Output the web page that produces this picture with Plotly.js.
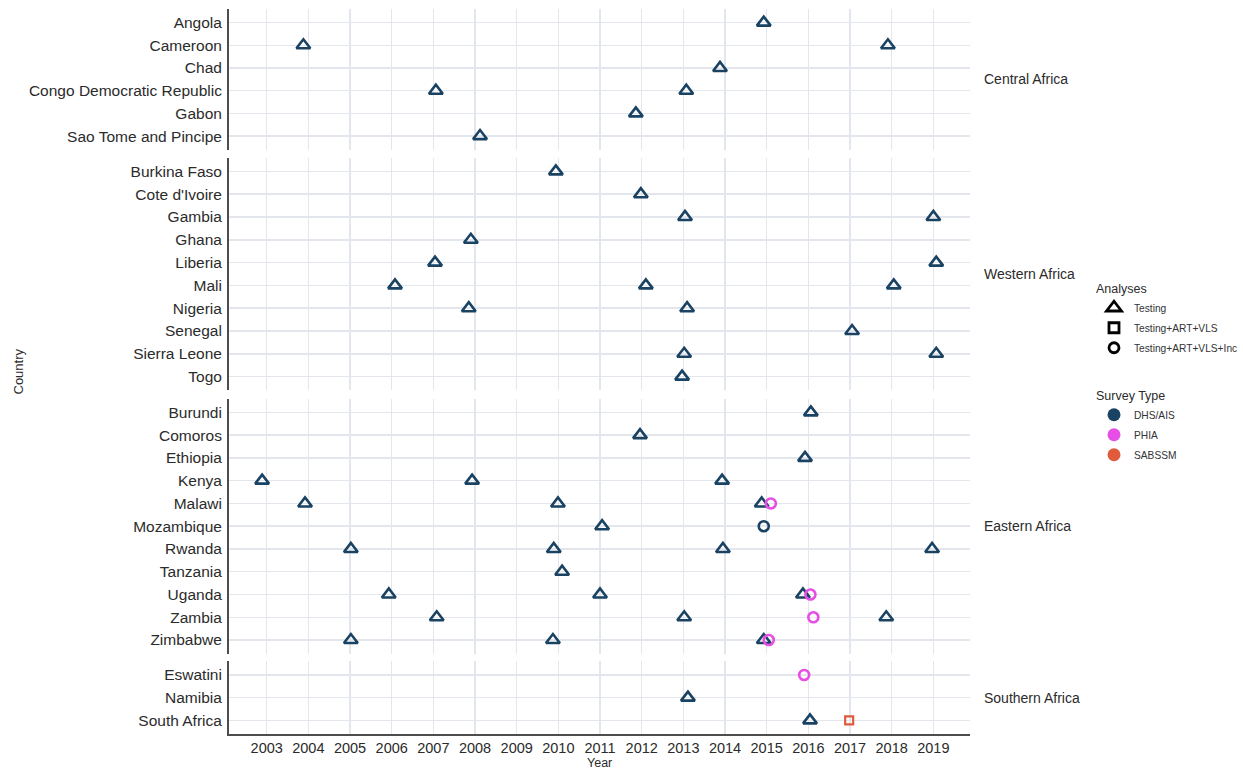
<!DOCTYPE html>
<html>
<head>
<meta charset="utf-8">
<script src="https://cdn.plot.ly/plotly-3.0.1.min.js"></script>
<style>html,body{margin:0;padding:0;background:#fff;}#chart{width:1243px;height:771px;}</style>
</head>
<body>
<div id="chart"></div>
<script>
// ---- categories (top to bottom within each region panel) ----
const regions = ["Central Africa", "Western Africa", "Eastern Africa", "Southern Africa"];
const centralCountries = ["Angola", "Cameroon", "Chad", "Congo Democratic Republic", "Gabon", "Sao Tome and Pincipe"];
const westernCountries = ["Burkina Faso", "Cote d'Ivoire", "Gambia", "Ghana", "Liberia", "Mali", "Nigeria", "Senegal", "Sierra Leone", "Togo"];
const easternCountries = ["Burundi", "Comoros", "Ethiopia", "Kenya", "Malawi", "Mozambique", "Rwanda", "Tanzania", "Uganda", "Zambia", "Zimbabwe"];
const southernCountries = ["Eswatini", "Namibia", "South Africa"];

const analyses = ["Testing", "Testing+ART+VLS", "Testing+ART+VLS+Inc"];
const surveyTypes = ["DHS/AIS", "PHIA", "SABSSM"];
const yearTicks = [2003, 2004, 2005, 2006, 2007, 2008, 2009, 2010, 2011, 2012, 2013, 2014, 2015, 2016, 2017, 2018, 2019];

// ---- survey records (year values) ----
const recCountry = [
  "Angola", "Cameroon", "Cameroon", "Chad", "Congo Democratic Republic", "Congo Democratic Republic", "Gabon", "Sao Tome and Pincipe",
  "Burkina Faso", "Cote d'Ivoire", "Gambia", "Gambia", "Ghana", "Liberia", "Liberia", "Mali", "Mali", "Mali",
  "Nigeria", "Nigeria", "Senegal", "Sierra Leone", "Sierra Leone", "Togo",
  "Burundi", "Comoros", "Ethiopia", "Kenya", "Kenya", "Kenya", "Malawi", "Malawi", "Malawi", "Malawi",
  "Mozambique", "Mozambique", "Rwanda", "Rwanda", "Rwanda", "Rwanda", "Tanzania",
  "Uganda", "Uganda", "Uganda", "Uganda", "Zambia", "Zambia", "Zambia", "Zambia",
  "Zimbabwe", "Zimbabwe", "Zimbabwe", "Zimbabwe",
  "Eswatini", "Namibia", "South Africa", "South Africa"
];
const recYear = [
  2014.93, 2003.88, 2017.91, 2013.88, 2007.06, 2013.07, 2011.86, 2008.12,
  2009.94, 2011.98, 2013.04, 2019.00, 2007.90, 2007.04, 2019.07, 2006.08, 2012.10, 2018.05,
  2007.85, 2013.09, 2017.05, 2013.02, 2019.07, 2012.97,
  2016.06, 2011.96, 2015.92, 2002.89, 2007.93, 2013.93, 2003.92, 2009.99, 2014.88, 2015.10,
  2011.05, 2014.93, 2005.02, 2009.89, 2013.95, 2018.97, 2010.09,
  2005.93, 2011.00, 2015.87, 2016.05, 2007.08, 2013.02, 2017.87, 2016.12,
  2005.02, 2009.87, 2014.93, 2015.05,
  2015.90, 2013.11, 2016.04, 2016.98
];
const recAnalysis = [
  "Testing", "Testing", "Testing", "Testing", "Testing", "Testing", "Testing", "Testing",
  "Testing", "Testing", "Testing", "Testing", "Testing", "Testing", "Testing", "Testing", "Testing", "Testing",
  "Testing", "Testing", "Testing", "Testing", "Testing", "Testing",
  "Testing", "Testing", "Testing", "Testing", "Testing", "Testing", "Testing", "Testing", "Testing", "Testing+ART+VLS+Inc",
  "Testing", "Testing+ART+VLS+Inc", "Testing", "Testing", "Testing", "Testing", "Testing",
  "Testing", "Testing", "Testing", "Testing+ART+VLS+Inc", "Testing", "Testing", "Testing", "Testing+ART+VLS+Inc",
  "Testing", "Testing", "Testing", "Testing+ART+VLS+Inc",
  "Testing+ART+VLS+Inc", "Testing", "Testing", "Testing+ART+VLS"
];
const recSurvey = [
  "DHS/AIS", "DHS/AIS", "DHS/AIS", "DHS/AIS", "DHS/AIS", "DHS/AIS", "DHS/AIS", "DHS/AIS",
  "DHS/AIS", "DHS/AIS", "DHS/AIS", "DHS/AIS", "DHS/AIS", "DHS/AIS", "DHS/AIS", "DHS/AIS", "DHS/AIS", "DHS/AIS",
  "DHS/AIS", "DHS/AIS", "DHS/AIS", "DHS/AIS", "DHS/AIS", "DHS/AIS",
  "DHS/AIS", "DHS/AIS", "DHS/AIS", "DHS/AIS", "DHS/AIS", "DHS/AIS", "DHS/AIS", "DHS/AIS", "DHS/AIS", "PHIA",
  "DHS/AIS", "DHS/AIS", "DHS/AIS", "DHS/AIS", "DHS/AIS", "DHS/AIS", "DHS/AIS",
  "DHS/AIS", "DHS/AIS", "DHS/AIS", "PHIA", "DHS/AIS", "DHS/AIS", "DHS/AIS", "PHIA",
  "DHS/AIS", "DHS/AIS", "DHS/AIS", "PHIA",
  "PHIA", "DHS/AIS", "DHS/AIS", "SABSSM"
];

// ---- styling ----
const FONT = "Arial, 'Liberation Sans', Helvetica, sans-serif";
const colorOf = {"DHS/AIS": "#1a4262", "PHIA": "#e64ee6", "SABSSM": "#e05a3c"};
const symbolOf = {"Testing": "triangle-up-open", "Testing+ART+VLS": "square-open", "Testing+ART+VLS+Inc": "circle-open"};
const sizeOf = {"Testing": 12, "Testing+ART+VLS": 8, "Testing+ART+VLS+Inc": 10};
const gridColor = "#e3e7ed";
const axisColor = "#4d4d4d";

const panelCats = [centralCountries, westernCountries, easternCountries, southernCountries];
// panel pixel extents (top, bottom) inside the plot area
const TOP = 9, BOT = 734, H = BOT - TOP;
const LEFT = 229, RIGHT = 970, W = RIGHT - LEFT;
const panelPx = [[9, 149.7], [157.7, 390.3], [398.7, 653.7], [661.3, 734]];
function dom(p) { return [Math.max(0, (BOT - p[1]) / H), Math.min(1, (BOT - p[0]) / H)]; }

const traces = [];
panelCats.forEach((cats, pi) => {
  const sfx = pi === 0 ? "" : String(pi + 1);
  analyses.forEach(an => {
    surveyTypes.forEach(sv => {
      const xs = [], ys = [];
      recCountry.forEach((c, i) => {
        if (cats.includes(c) && recAnalysis[i] === an && recSurvey[i] === sv) { xs.push(recYear[i]); ys.push(c); }
      });
      if (!xs.length) return;
      traces.push({
        type: "scatter", mode: "markers", x: xs, y: ys,
        xaxis: "x" + sfx, yaxis: "y" + sfx, showlegend: false, hoverinfo: "x+y",
        marker: {symbol: symbolOf[an], size: sizeOf[an], color: colorOf[sv],
                 line: {color: colorOf[sv], width: an === "Testing+ART+VLS" ? 2.2 : 2.6}}
      });
    });
  });
});

// legend entries
analyses.forEach(an => {
  traces.push({type: "scatter", mode: "markers", x: [null], y: [null], name: an, legend: "legend",
    legendgroup: "a_" + an, xaxis: "x4", yaxis: "y4", hoverinfo: "skip",
    marker: {symbol: symbolOf[an], size: an === "Testing" ? 13 : 10, color: "#000", line: {color: "#000", width: 2.8}}});
});
surveyTypes.forEach(sv => {
  traces.push({type: "scatter", mode: "markers", x: [null], y: [null], name: sv, legend: "legend2",
    legendgroup: "s_" + sv, xaxis: "x4", yaxis: "y4", hoverinfo: "skip",
    marker: {symbol: "circle", size: 13, color: colorOf[sv]}});
});

const layout = {
  width: 1243, height: 771,
  margin: {l: LEFT, r: 1243 - RIGHT, t: TOP, b: 771 - BOT, pad: 0, autoexpand: false},
  paper_bgcolor: "#fff", plot_bgcolor: "#fff",
  font: {family: FONT, size: 14, color: "#2b2b2b"},
  showlegend: true,
  legend: {title: {text: "Analyses", font: {size: 12.5, color: "#2b2b2b"}}, font: {size: 10.2, color: "#333"},
           xref: "container", yref: "container", x: 1094 / 1243, y: 1 - 277 / 771,
           xanchor: "left", yanchor: "top", bgcolor: "rgba(0,0,0,0)", tracegroupgap: 1, itemwidth: 30},
  legend2: {title: {text: "Survey Type", font: {size: 12.5, color: "#2b2b2b"}}, font: {size: 10.2, color: "#333"},
           xref: "container", yref: "container", x: 1094 / 1243, y: 1 - 384 / 771,
           xanchor: "left", yanchor: "top", bgcolor: "rgba(0,0,0,0)", tracegroupgap: 1, itemwidth: 30},
  annotations: [],
  shapes: []
};

panelCats.forEach((cats, pi) => {
  const sfx = pi === 0 ? "" : String(pi + 1);
  const isBottom = pi === panelCats.length - 1;
  layout["xaxis" + sfx] = {
    anchor: "y" + sfx, domain: [0, 1], range: [2002.095, 2019.88],
    tickmode: "array", tickvals: yearTicks, ticktext: yearTicks.map(String),
    showticklabels: isBottom, ticks: "", tickfont: {size: 14.5, color: "#2b2b2b"},
    showgrid: true, gridcolor: gridColor, gridwidth: 1.5, zeroline: false,
    showline: isBottom, linecolor: axisColor, linewidth: 2, fixedrange: true, automargin: false
  };
  layout["yaxis" + sfx] = {
    anchor: "x" + sfx, domain: dom(panelPx[pi]), type: "category",
    categoryorder: "array", categoryarray: cats, range: [cats.length - 0.4, -0.6],
    showgrid: true, gridcolor: gridColor, gridwidth: 1.5, zeroline: false,
    showline: true, linecolor: axisColor, linewidth: 2, ticks: "", ticklabelstandoff: 2,
    tickfont: {size: 15.5, color: "#2b2b2b"}, fixedrange: true, automargin: false
  };
  const d = dom(panelPx[pi]);
  layout.annotations.push({text: regions[pi], xref: "paper", yref: "paper", x: (982 - LEFT) / W, y: (d[0] + d[1]) / 2,
    xanchor: "left", yanchor: "middle", showarrow: false, font: {size: 14, color: "#2b2b2b"}});
});

layout.annotations.push({text: "Country", xref: "paper", yref: "paper", x: (18 - LEFT) / W, y: 0.5,
  xanchor: "center", yanchor: "middle", textangle: -90, showarrow: false, font: {size: 13, color: "#2b2b2b"}});
layout.annotations.push({text: "Year", xref: "paper", yref: "paper", x: 0.5, y: (BOT - 771) / H,
  xanchor: "center", yanchor: "bottom", showarrow: false, borderpad: 0, font: {size: 12.5, color: "#2b2b2b"}});

Plotly.newPlot("chart", traces, layout, {displayModeBar: false, staticPlot: true});
</script>
</body>
</html>
